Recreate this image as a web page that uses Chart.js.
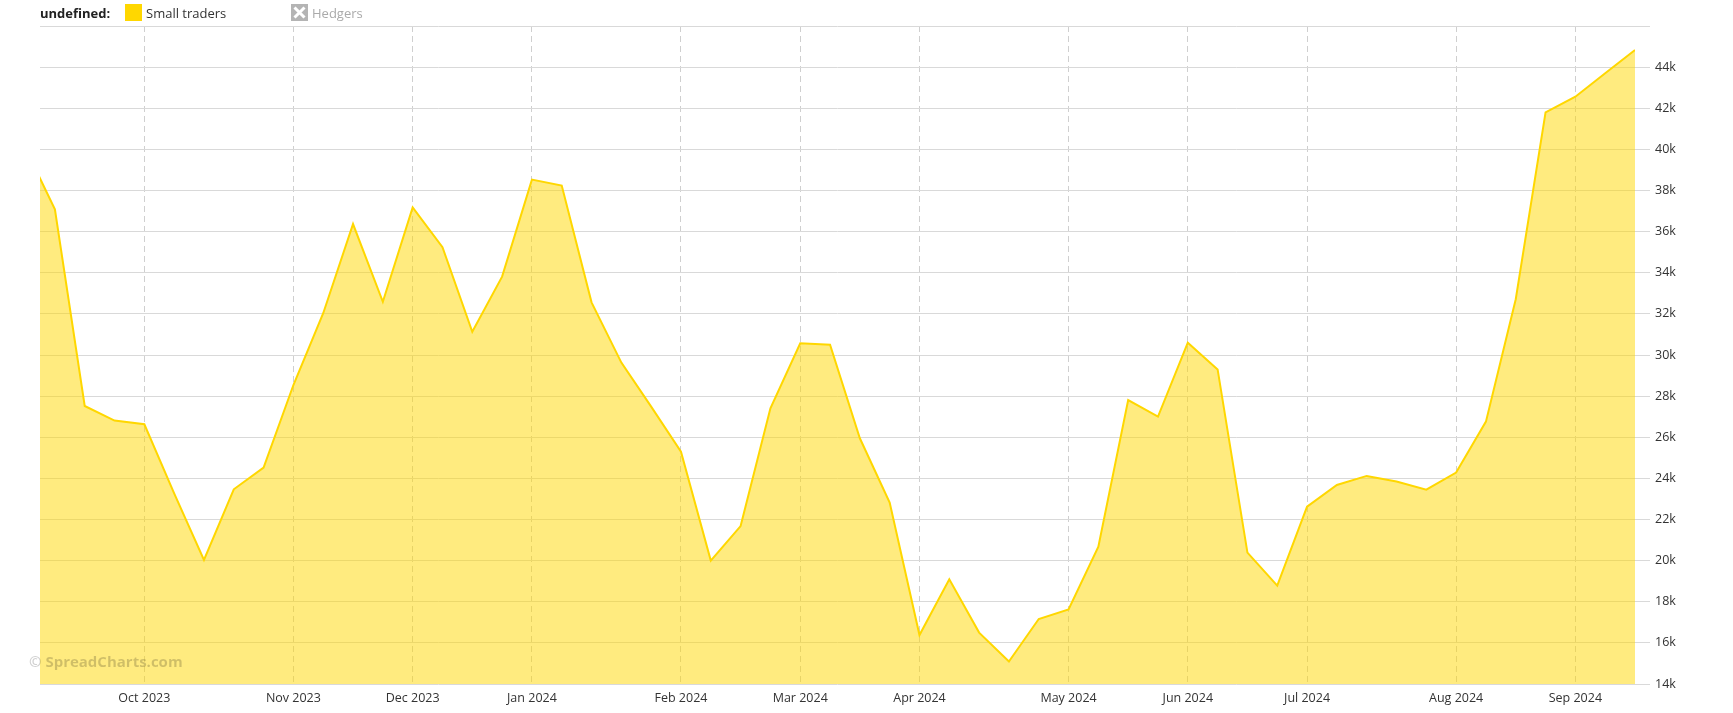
<!DOCTYPE html>
<html>
<head>
<meta charset="utf-8">
<script src="https://cdn.jsdelivr.net/npm/chart.js@4.4.1/dist/chart.umd.min.js"></script>
<style>
  html, body { margin: 0; padding: 0; background: #fff; }
  #wrap { position: relative; width: 1733px; height: 713px; overflow: hidden; font-family: 'Open Sans', sans-serif; }
  #c { position: absolute; left: 0; top: 0; }
  .lg { position: absolute; font-size: 13px; line-height: 16px; top: 5px; white-space: nowrap; }
  #wm { position: absolute; left: 29px; top: 651px; font-size: 15px; font-weight: bold; color: rgba(0,0,0,0.19); white-space: nowrap; }
</style>
</head>
<body>
<div id="wrap">
  <canvas id="c" width="1733" height="713"></canvas>
  <div class="lg" style="left:40px;font-weight:bold;color:#222;">undefined:</div>
  <div style="position:absolute;left:125px;top:4px;width:17px;height:17px;background:#FFD700;"></div>
  <div class="lg" style="left:146px;color:#333;">Small traders</div>
  <svg style="position:absolute;left:291px;top:4px;" width="17" height="17" viewBox="0 0 17 17">
    <rect x="0" y="0" width="17" height="17" fill="#b4b4b4"/>
    <path d="M3.5 3.5 L13.5 13.5 M13.5 3.5 L3.5 13.5" stroke="#fff" stroke-width="3"/>
  </svg>
  <div class="lg" style="left:312px;color:#aaa;">Hedgers</div>
  <div id="wm">© SpreadCharts.com</div>
</div>
<script>
// Weekly report dates (Tuesdays)
const weeks = [
  '2023-09-05','2023-09-12','2023-09-19','2023-09-26','2023-10-03','2023-10-10','2023-10-17','2023-10-24','2023-10-31',
  '2023-11-07','2023-11-14','2023-11-21','2023-11-28','2023-12-05','2023-12-12','2023-12-19','2023-12-26',
  '2024-01-02','2024-01-09','2024-01-16','2024-01-23','2024-01-30','2024-02-06','2024-02-13','2024-02-20','2024-02-27',
  '2024-03-05','2024-03-12','2024-03-19','2024-03-26','2024-04-02','2024-04-09','2024-04-16','2024-04-23','2024-04-30',
  '2024-05-07','2024-05-14','2024-05-21','2024-05-28','2024-06-04','2024-06-11','2024-06-18','2024-06-25',
  '2024-07-02','2024-07-09','2024-07-16','2024-07-23','2024-07-30','2024-08-06','2024-08-13','2024-08-20','2024-08-27',
  '2024-09-03','2024-09-10','2024-09-17'
];
// Small traders net positions
const smallTraders = [
  40100, 37080, 27520, 26810, 26630, 23270, 20030, 23470, 24520,
  28540, 32030, 36370, 32590, 37180, 35240, 31130, 33810,
  38530, 38240, 32560, 29630, 27490, 25300, 20000, 21680, 27410,
  30570, 30500, 25950, 22820, 16380, 19090, 16500, 15090, 17160,
  17630, 20680, 27810, 27000, 30600, 29300, 20390, 18780,
  22620, 23680, 24120, 23850, 23450, 24280, 26760, 32710, 41800,
  42560, 43700, 44830
];
const monthNames = ['Jan','Feb','Mar','Apr','May','Jun','Jul','Aug','Sep','Oct','Nov','Dec'];
const yTicks = [14000,16000,18000,20000,22000,24000,26000,28000,30000,32000,34000,36000,38000,40000,42000,44000,46000];

// month ticks at first week of each month (skip the first, partial month)
const monthTicks = [];
const monthLabels = {};
for (let i = 1; i < weeks.length; i++) {
  if (weeks[i].slice(0,7) !== weeks[i-1].slice(0,7)) {
    monthTicks.push(i);
    const m = parseInt(weeks[i].slice(5,7),10) - 1;
    monthLabels[i] = monthNames[m] + ' ' + weeks[i].slice(0,4);
  }
}

const pts = smallTraders.map((v, i) => ({x: i, y: v}));

new Chart(document.getElementById('c'), {
  type: 'line',
  data: {
    datasets: [{
      label: 'Small traders',
      data: pts,
      borderColor: '#FFD700',
      backgroundColor: 'rgba(255,215,0,0.5)',
      borderWidth: 2,
      fill: 'start',
      pointRadius: 0,
      tension: 0
    }]
  },
  options: {
    responsive: false,
    animation: false,
    layout: { padding: { left: 40, top: 26, right: 0, bottom: 0 } },
    plugins: { legend: { display: false }, tooltip: { enabled: false } },
    scales: {
      x: {
        type: 'linear',
        min: 0.5,
        max: weeks.length - 1,
        afterBuildTicks: (s) => { s.ticks = monthTicks.map(v => ({ value: v })); },
        afterFit: (s) => { s.height = 29; },
        ticks: {
          autoSkip: false,
          maxRotation: 0,
          padding: 7,
          color: '#333',
          font: { family: 'Open Sans', size: 12.5 },
          callback: (v) => monthLabels[v] || ''
        },
        grid: { color: '#cfcfcf', lineWidth: 1, drawTicks: false },
        border: { display: false, dash: [6, 4] }
      },
      y: {
        position: 'right',
        min: yTicks[0],
        max: yTicks[yTicks.length - 1],
        afterBuildTicks: (s) => { s.ticks = yTicks.map(v => ({ value: v })); },
        afterFit: (s) => { s.width = 98; },
        ticks: {
          padding: 5,
          color: '#333',
          font: { family: 'Open Sans', size: 12.5 },
          callback: (v) => v === yTicks[yTicks.length - 1] ? '' : (v / 1000) + 'k'
        },
        grid: { color: '#d9d9d9', lineWidth: 1, tickLength: 15 },
        border: { display: false }
      }
    }
  }
});
</script>
</body>
</html>
